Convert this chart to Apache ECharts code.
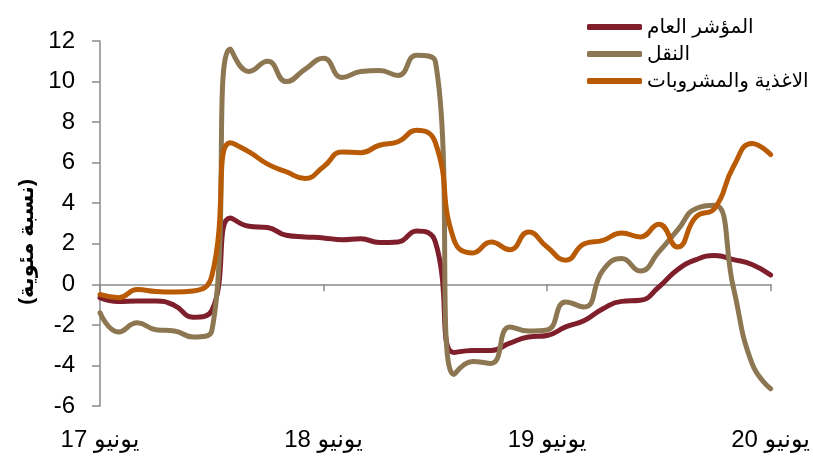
<!DOCTYPE html>
<html><head><meta charset="utf-8">
<script src="https://cdn.jsdelivr.net/npm/echarts@6/dist/echarts.min.js"></script>
<style>html,body{margin:0;padding:0;background:#fff}#c{width:813px;height:460px}</style>
</head><body><div id="c"></div>
<script>
var months = [];
(function(){var y=2017,m=6;for(var i=0;i<37;i++){months.push(y+'-'+(m<10?'0':'')+m);m++;if(m>12){m=1;y++;}}})();
var tickLabels = ['يونيو 17','يونيو 18','يونيو 19','يونيو 20'];
var seriesNames = ['المؤشر العام','النقل','الاغذية والمشروبات'];
var generalIndex = [-0.66,-0.85,-0.82,-0.82,-1.04,-1.62,-1.3,3.27,2.86,2.8,2.42,2.34,2.29,2.2,2.25,2.06,2.09,2.63,2.1,-3.36,-3.26,-3.26,-2.9,-2.6,-2.52,-2.1,-1.78,-1.2,-0.84,-0.79,-0.13,0.72,1.22,1.42,1.22,0.98,0.46];
var transport = [-1.4,-2.35,-1.9,-2.24,-2.3,-2.6,-2.3,11.6,10.5,11.0,10.0,10.6,11.15,10.2,10.5,10.55,10.3,11.3,11.0,-4.45,-3.8,-3.9,-2.1,-2.3,-2.25,-0.87,-1.12,0.69,1.27,0.66,1.6,2.67,3.74,3.9,-0.15,-3.9,-5.15];
var foodBev = [-0.5,-0.66,-0.26,-0.35,-0.38,-0.33,0.4,6.98,6.53,5.93,5.55,5.22,5.8,6.53,6.49,6.86,7.03,7.6,7.0,2.2,1.55,2.09,1.71,2.58,1.84,1.19,2.0,2.17,2.53,2.34,2.96,1.84,3.33,3.75,5.8,6.95,6.4];
var yAxisTitle = '(نسبة مئوية)';

var colors = ['#7F1F2B','#8C7752','#B95A05'];
var FONT = 'Liberation Sans, Arial, DejaVu Sans, sans-serif';
var axisGrey = '#8a8a8a';
var chart = echarts.init(document.getElementById('c'));
function mk(name, data, color){
  return {name:name,type:'line',data:data,smooth:true,symbol:'none',xAxisIndex:0,
    lineStyle:{width:5,color:color,cap:'round',join:'round'},itemStyle:{color:color}};
}
chart.setOption({
  animation:false,
  color:colors,
  grid:{left:100,right:39,top:41,bottom:54,containLabel:false},
  legend:{orient:'vertical',left:582,top:12,itemWidth:55,itemHeight:6,itemGap:7,icon:'roundRect',
    textStyle:{fontFamily:FONT,fontSize:20,color:'#000'},
    data:seriesNames},
  graphic:[{type:'text',left:null,x:27,y:242,rotation:Math.PI/2,
    style:{text:yAxisTitle,font:'bold 21px '+FONT,fill:'#000',textAlign:'center',textVerticalAlign:'middle'}}],
  xAxis:[
    {type:'category',data:months,boundaryGap:false,position:'bottom',
      axisLine:{show:false,onZero:false},axisTick:{show:false},splitLine:{show:false},
      axisLabel:{interval:11,margin:22,fontFamily:FONT,fontSize:24,color:'#000',
        formatter:function(v,i){return '\u200F'+tickLabels[Math.round(i/12)];}}},
    {type:'category',data:months,boundaryGap:false,position:'bottom',gridIndex:0,
      axisLine:{show:true,onZero:true,lineStyle:{color:axisGrey,width:1.5}},
      axisTick:{show:true,interval:11,length:7,lineStyle:{color:axisGrey,width:1.5}},
      axisLabel:{show:false},splitLine:{show:false}}
  ],
  yAxis:{type:'value',min:-6,max:12,interval:2,
    axisLine:{show:true,lineStyle:{color:axisGrey,width:1.5}},
    axisTick:{show:true,length:8,lineStyle:{color:axisGrey,width:1.5}},
    splitLine:{show:false},
    axisLabel:{margin:25,fontFamily:FONT,fontSize:24,color:'#000'}},
  series:[mk(seriesNames[0],generalIndex,colors[0]),mk(seriesNames[1],transport,colors[1]),mk(seriesNames[2],foodBev,colors[2])]
});
</script></body></html>
